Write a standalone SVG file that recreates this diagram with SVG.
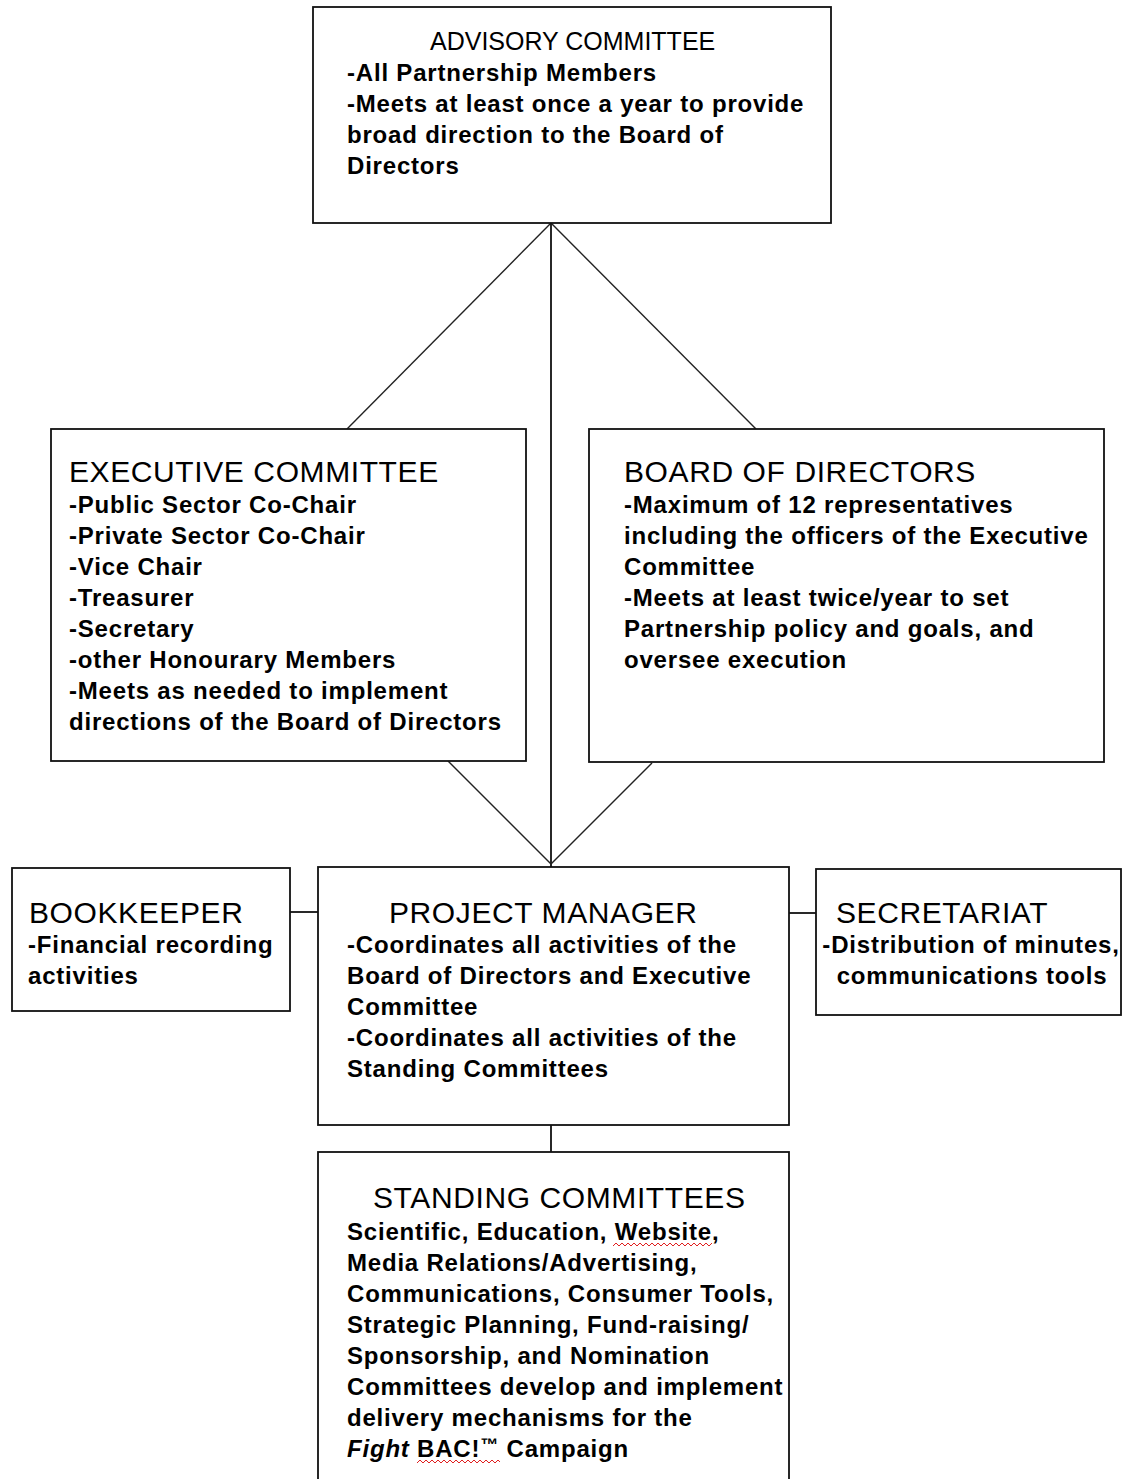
<svg xmlns="http://www.w3.org/2000/svg" width="1122" height="1479" viewBox="0 0 1122 1479">
<style>
.box{fill:#fff;stroke:#111;stroke-width:1.8}
.ln{stroke:#111;stroke-width:1.8;fill:none}
.dg{stroke:#222;stroke-width:1.4;fill:none}
.t{font-family:"Liberation Sans",Arial,sans-serif;font-size:30px;letter-spacing:0.6px;fill:#000}
.ta{font-family:"Liberation Sans",Arial,sans-serif;font-size:25px;fill:#000}
.b{font-family:"Liberation Sans",Arial,sans-serif;font-size:24px;font-weight:bold;letter-spacing:0.8px;fill:#000}
.sq{stroke:#e02020;stroke-width:1;fill:none}
</style>
<rect width="1122" height="1479" fill="#fff"/>
<g id="connectors">
<line class="dg" x1="551" y1="223" x2="347" y2="429"/>
<line class="dg" x1="551" y1="223" x2="756" y2="429"/>
<line class="ln" x1="551" y1="223" x2="551" y2="867"/>
<line class="dg" x1="448" y1="761" x2="551" y2="864"/>
<line class="dg" x1="652" y1="763" x2="551" y2="864"/>
<line class="ln" x1="290" y1="912" x2="318" y2="912"/>
<line class="ln" x1="789" y1="913" x2="816" y2="913"/>
<line class="ln" x1="551" y1="1125" x2="551" y2="1152"/>
</g>
<g id="advisory">
<rect class="box" x="313" y="7" width="518" height="216"/>
<text class="ta" x="430" y="50">ADVISORY COMMITTEE</text>
<text class="b" x="347" y="81">-All Partnership Members</text>
<text class="b" x="347" y="112">-Meets at least once a year to provide</text>
<text class="b" x="347" y="143">broad direction to the Board of</text>
<text class="b" x="347" y="174">Directors</text>
</g>
<g id="executive">
<rect class="box" x="51" y="429" width="475" height="332"/>
<text class="t" x="69" y="482">EXECUTIVE COMMITTEE</text>
<text class="b" x="69" y="513">-Public Sector Co-Chair</text>
<text class="b" x="69" y="544">-Private Sector Co-Chair</text>
<text class="b" x="69" y="575">-Vice Chair</text>
<text class="b" x="69" y="606">-Treasurer</text>
<text class="b" x="69" y="637">-Secretary</text>
<text class="b" x="69" y="668">-other Honourary Members</text>
<text class="b" x="69" y="699">-Meets as needed to implement</text>
<text class="b" x="69" y="730">directions of the Board of Directors</text>
</g>
<g id="board">
<rect class="box" x="589" y="429" width="515" height="333"/>
<text class="t" x="624" y="482">BOARD OF DIRECTORS</text>
<text class="b" x="624" y="513">-Maximum of 12 representatives</text>
<text class="b" x="624" y="544">including the officers of the Executive</text>
<text class="b" x="624" y="575">Committee</text>
<text class="b" x="624" y="606">-Meets at least twice/year to set</text>
<text class="b" x="624" y="637">Partnership policy and goals, and</text>
<text class="b" x="624" y="668">oversee execution</text>
</g>
<g id="bookkeeper">
<rect class="box" x="12" y="868" width="278" height="143"/>
<text class="t" x="29" y="923">BOOKKEEPER</text>
<text class="b" x="28" y="953">-Financial recording</text>
<text class="b" x="28" y="984">activities</text>
</g>
<g id="project-manager">
<rect class="box" x="318" y="867" width="471" height="258"/>
<text class="t" x="389" y="923">PROJECT MANAGER</text>
<text class="b" x="347" y="953">-Coordinates all activities of the</text>
<text class="b" x="347" y="984">Board of Directors  and Executive</text>
<text class="b" x="347" y="1015">Committee</text>
<text class="b" x="347" y="1046">-Coordinates all activities of the</text>
<text class="b" x="347" y="1077">Standing Committees</text>
</g>
<g id="secretariat">
<rect class="box" x="816" y="869" width="305" height="146"/>
<text class="t" x="836" y="923">SECRETARIAT</text>
<text class="b" x="971" y="953" text-anchor="middle" letter-spacing="0.5">-Distribution of minutes,</text>
<text class="b" x="972" y="984" text-anchor="middle">communications tools</text>
</g>
<g id="standing-committees">
<rect class="box" x="318" y="1152" width="471" height="340"/>
<text class="t" x="373" y="1208">STANDING COMMITTEES</text>
<text class="b" x="347" y="1240">Scientific, Education, Website,</text>
<text class="b" x="347" y="1271">Media Relations/Advertising,</text>
<text class="b" x="347" y="1302">Communications, Consumer Tools,</text>
<text class="b" x="347" y="1333">Strategic Planning, Fund-raising/</text>
<text class="b" x="347" y="1364">Sponsorship, and Nomination</text>
<text class="b" x="347" y="1395">Committees develop and implement</text>
<text class="b" x="347" y="1426">delivery mechanisms for the</text>
<text class="b" x="347" y="1457"><tspan font-style="italic">Fight</tspan> BAC!<tspan font-size="18" dy="-6">™</tspan><tspan dy="6"> Campaign</tspan></text>
<polyline class="sq" points="613,1246 616,1243 619,1246 622,1243 625,1246 628,1243 631,1246 634,1243 637,1246 640,1243 643,1246 646,1243 649,1246 652,1243 655,1246 658,1243 661,1246 664,1243 667,1246 670,1243 673,1246 676,1243 679,1246 682,1243 685,1246 688,1243 691,1246 694,1243 697,1246 700,1243 703,1246 706,1243 709,1246 712,1243"/>
<polyline class="sq" points="417,1463 420,1460 423,1463 426,1460 429,1463 432,1460 435,1463 438,1460 441,1463 444,1460 447,1463 450,1460 453,1463 456,1460 459,1463 462,1460 465,1463 468,1460 471,1463 474,1460 477,1463 480,1460 483,1463 486,1460 489,1463 492,1460 495,1463 498,1460 500,1462"/>
</g>
</svg>
